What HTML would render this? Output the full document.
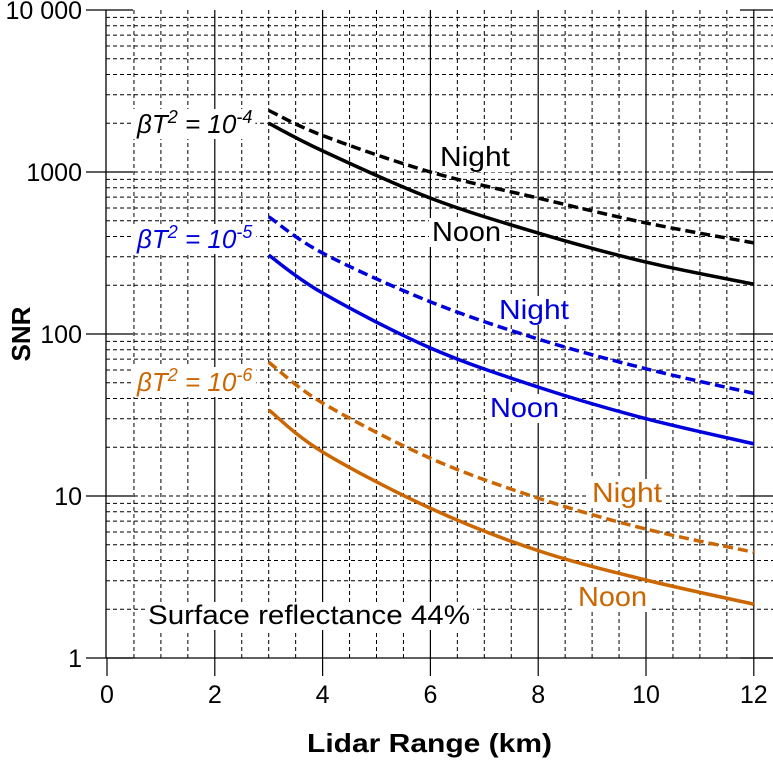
<!DOCTYPE html>
<html><head><meta charset="utf-8"><style>
body{margin:0;background:#fff;}
svg{display:block;font-family:"Liberation Sans",Arial,sans-serif;}
</style></head><body>
<svg id="chart" width="773" height="762">
<g id="grid"></g>
<g id="axes"></g>
<g id="bgs"></g>
<g id="series"></g>
<g id="ann" font-size="28">
<text x="137" y="133" font-size="26" font-style="italic" fill="#000">βT<tspan dy="-10" font-size="18">2</tspan><tspan dy="10"> = 10</tspan><tspan dy="-10" font-size="18">-4</tspan></text>
<text x="137" y="248" font-size="26" font-style="italic" fill="#0000dd">βT<tspan dy="-10" font-size="18">2</tspan><tspan dy="10"> = 10</tspan><tspan dy="-10" font-size="18">-5</tspan></text>
<text x="137" y="391" font-size="26" font-style="italic" fill="#cc6600">βT<tspan dy="-10" font-size="18">2</tspan><tspan dy="10"> = 10</tspan><tspan dy="-10" font-size="18">-6</tspan></text>
<text x="440" y="166" textLength="70" lengthAdjust="spacingAndGlyphs" fill="#000">Night</text>
<text x="432" y="241" textLength="69" lengthAdjust="spacingAndGlyphs" fill="#000">Noon</text>
<text x="499" y="319" textLength="70" lengthAdjust="spacingAndGlyphs" fill="#0000dd">Night</text>
<text x="490" y="417" textLength="69" lengthAdjust="spacingAndGlyphs" fill="#0000dd">Noon</text>
<text x="592" y="502" textLength="70" lengthAdjust="spacingAndGlyphs" fill="#cc6600">Night</text>
<text x="578" y="606" textLength="69" lengthAdjust="spacingAndGlyphs" fill="#cc6600">Noon</text>
<text x="148" y="624" font-size="27" textLength="322" lengthAdjust="spacingAndGlyphs" fill="#000">Surface reflectance 44%</text>
</g>
<text x="307" y="752" textLength="245" lengthAdjust="spacingAndGlyphs" font-weight="bold" font-size="26">Lidar Range (km)</text>
<text transform="translate(30,334) rotate(-90)" text-anchor="middle" font-weight="bold" font-size="26">SNR</text>
</svg>
<script>
const ranges=[3,4,6,8,10,12];
const blackNight=[2400,1680,1000,690,485,365];
const blackNoon=[2000,1350,690,420,278,203];
const blueNight=[530,316,158,93,61,43];
const blueNoon=[307,179,82,47,30,21];
const orangeNight=[67,37.5,17.1,9.7,6.25,4.5];
const orangeNoon=[34,18.7,8.4,4.6,3.03,2.15];
const xTicks=[0,2,4,6,8,10,12];
const yTickLabels=["1","10","100","1000","10 000"];
const NS="http://www.w3.org/2000/svg";
const X0=107,PX=53.9,Y1=658,DEC=162;
const xs=v=>X0+v*PX;
const ys=v=>Y1-Math.log10(v)*DEC;
function mk(tag,attrs,parent){const e=document.createElementNS(NS,tag);for(const k in attrs)e.setAttribute(k,attrs[k]);parent.appendChild(e);return e;}
const grid=document.getElementById('grid'),axes=document.getElementById('axes'),ser=document.getElementById('series');
for(let k=1;k<=25;k++){const v=k*0.5;const x=xs(v);const major=(k%4===0);
 const l=mk('line',{x1:x,x2:x,y1:10,y2:Y1,stroke:'#000','stroke-width':major?1.2:1,'stroke-dasharray':major?'':'4,3'},grid);
 
 }
for(let d=0;d<4;d++){for(let m=1;m<=9;m++){const v=m*Math.pow(10,d);if(v===1)continue;const y=ys(v);
 const l=mk('line',{x1:106,x2:773,y1:y,y2:y,stroke:'#000','stroke-width':1,'stroke-dasharray':'4,3'},grid);
 
 }}
let a=mk('line',{x1:106,x2:106,y1:10,y2:Y1,stroke:'#000','stroke-width':1.3},axes);


a=mk('line',{x1:106,x2:773,y1:Y1,y2:Y1,stroke:'#000','stroke-width':1.3},axes);


xTicks.forEach(v=>{const x=xs(v);
 const t=mk('line',{x1:x,x2:x,y1:Y1,y2:Y1+18,stroke:'#000','stroke-width':1.2},axes);
 
 
 const tx=mk('text',{x:x,y:703,'text-anchor':'middle','font-size':25},axes);tx.textContent=v;
 
 });
yTickLabels.forEach((s,i)=>{const y=ys(Math.pow(10,i));
 const t=mk('line',{x1:86,x2:133,y1:y,y2:y,stroke:'#000','stroke-width':1.2},axes);
 
 
 const t2=mk('line',{x1:740,x2:773,y1:y,y2:y,stroke:'#000','stroke-width':1.2},axes);
 
 
 const tx=mk('text',{x:82,y:y+9,'text-anchor':'end','font-size':25},axes);tx.textContent=s;
 
 });
function path(vals){const p=ranges.map((r,i)=>[xs(r),ys(vals[i])]);
 let d='M'+p[0][0]+','+p[0][1];
 for(let i=0;i<p.length-1;i++){const p0=p[Math.max(0,i-1)],p1=p[i],p2=p[i+1],p3=p[Math.min(p.length-1,i+2)];
  const c1=[p1[0]+(p2[0]-p0[0])/6,p1[1]+(p2[1]-p0[1])/6],c2=[p2[0]-(p3[0]-p1[0])/6,p2[1]-(p3[1]-p1[1])/6];
  d+=' C'+c1+' '+c2+' '+p2;}return d;}
const defs=[[blackNight,'#000',true,'black-night'],[blackNoon,'#000',false,'black-noon'],
 [blueNight,'#0000dd',true,'blue-night'],[blueNoon,'#0000dd',false,'blue-noon'],
 [orangeNight,'#cc6600',true,'orange-night'],[orangeNoon,'#cc6600',false,'orange-noon']];
defs.forEach(([v,c,dash,n])=>{const e=mk('path',{d:path(v),fill:'none',stroke:c,'stroke-width':3.5,'stroke-dasharray':dash?'10,5':''},ser);
 
 });
const bgs=document.getElementById('bgs');
document.querySelectorAll('#ann text').forEach(t=>{const b=t.getBBox();
 const r=mk('rect',{x:b.x-3,y:b.y+2,width:b.width+6,height:b.height-2,fill:'#fff'},bgs);
 
 });
</script>
</body></html>
